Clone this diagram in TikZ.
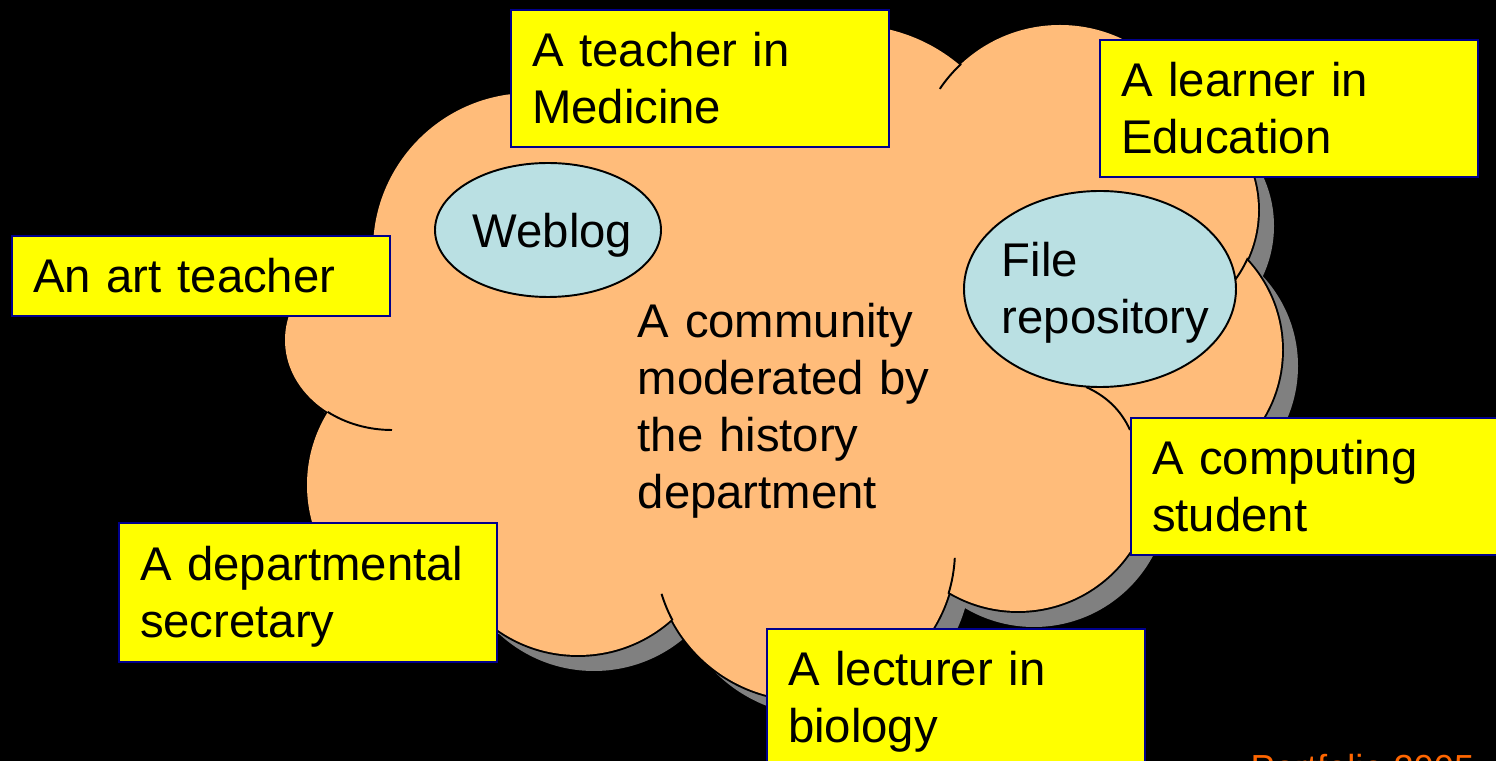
\documentclass[tikz,border=0pt]{standalone}
\usepackage{fontspec}
\setmainfont{Liberation Sans}
\usepackage{tikz}
\usetikzlibrary{shapes}
\definecolor{peach}{RGB}{255,188,122}
\definecolor{bluegray}{RGB}{186,224,227}
\definecolor{navy}{RGB}{0,0,140}
\definecolor{lemon}{RGB}{255,255,0}
\definecolor{shadowgray}{RGB}{128,128,128}
\definecolor{tangerine}{RGB}{255,102,0}
\newcommand{\slidefont}{\fontsize{13.45}{16.2}\selectfont}
\tikzstyle{ybox}=[draw=navy, line width=0.6pt, fill=lemon, anchor=north west, outer sep=0pt, inner xsep=0.21cm, inner ysep=0pt, text width=3.36cm, align=left, text height=0.339cm, text depth=0.57cm, minimum height=1.37cm, font=\slidefont]
\tikzstyle{lbl}=[inner sep=0pt, align=left, anchor=base west, font=\slidefont]
\tikzstyle{bub}=[draw=black, line width=0.55pt, fill=bluegray]
% lobes of the cloud (pixel units, y down)
\newcommand{\cloudlobes}{
  (530,250) circle[radius=157]
  (680,200) circle[radius=150]
  (850,195) circle[radius=170]
  (1060,170) circle[radius=145]
  (1140,210) circle[radius=118]
  (1150,350) circle[radius=132]
  (1018,476) circle[radius=135]
  (805,550) circle[radius=150]
  (578,515) circle[radius=140]
  (445,485) circle[radius=138]
  (392,340) ellipse[x radius=107, y radius=90]
  (780,380) ellipse[x radius=400, y radius=220]
}

\begin{document}
\begin{tikzpicture}
[x=0.01cm, y=-0.01cm]
 \useasboundingbox (0,0) rectangle (1496,761);
 \clip (0,0) rectangle (1496,761);
 \fill[black] (0,0) rectangle (1496,761);
 % cloud with shadow
 \fill[shadowgray, shift={(16,16)}] \cloudlobes;
 \draw[line width=1.1pt, fill=peach] \cloudlobes;
 \fill[peach] \cloudlobes;
 \draw[line width=0.55pt] (1060,170) ++(214:145) arc[start angle=214, end angle=227, radius=145];
 \draw[line width=0.55pt] (1140,210) ++(24:118) arc[start angle=24, end angle=40, radius=118];
 \draw[line width=0.55pt] (805,550) ++(152:150) arc[start angle=152, end angle=163, radius=150];
 \draw[line width=0.55pt] (805,550) ++(3:150) arc[start angle=3, end angle=17, radius=150];
 \draw[line width=0.55pt] (392,340) ++(90:107 and 90) arc[start angle=90, end angle=127, x radius=107, y radius=90];
 \draw[line width=0.55pt] (1086,387) .. controls (1106,396) and (1121,410) .. (1130,430);
 % tools
 \draw[bub] (548,230) ellipse[x radius=113, y radius=67];
 \draw[bub] (1100,289) ellipse[x radius=136, y radius=98];
 \node[lbl] (weblog) at (472,248) {Weblog};
 \node[lbl, text width=2.2cm] (repository) at (1001,277) {File\\repository};
 \node[lbl, text width=3.2cm] (community) at (637,338) {A community\\moderated by\\the history\\department};
 % members
 \node[ybox] (medicine) at (511,10) {A teacher in\\Medicine};
 \node[ybox] (learner) at (1100,40) {A learner in\\Education};
 \node[ybox, text depth=0pt, minimum height=0.8cm] (art) at (12,236) {An art teacher};
 \node[ybox, minimum height=1.39cm] (secretary) at (119,523) {A departmental\\secretary};
 \node[ybox] (lecturer) at (767,629) {A lecturer in\\biology};
 \node[ybox] (computing) at (1131,418) {A computing\\student};
 \node[inner sep=0pt, anchor=base west, text=tangerine, font=\fontsize{10.3}{12}\selectfont] (portfolio) at (1250,781) {Portfolio 2005};
\end{tikzpicture}
\end{document}
